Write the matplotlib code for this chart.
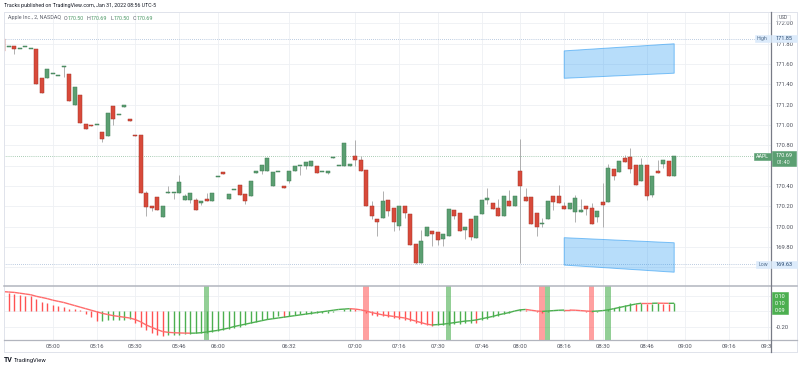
import numpy as np
import matplotlib
matplotlib.use("Agg")
import matplotlib.pyplot as plt
from matplotlib.patches import Rectangle, Polygon
from matplotlib.collections import LineCollection
from matplotlib.lines import Line2D
from matplotlib.transforms import blended_transform_factory, Bbox, TransformedBbox

plt.rcParams['font.family'] = ['Roboto', 'DejaVu Sans']

# ---------------- data ----------------
opens = [171.85, 171.77, 171.78, 171.75, 171.77, 171.75, 171.75, 171.46, 171.46, 171.50,
         171.48, 171.57, 171.50, 171.20, 171.30, 171.01, 171.00, 171.00, 170.93, 170.89,
         171.19, 171.10, 171.18, 171.06, 170.90, 170.90, 170.33, 170.20, 170.29, 170.09,
         170.33, 170.33, 170.33, 170.26, 170.26, 170.26, 170.23, 170.27, 170.25, 170.49,
         170.54, 170.27, 170.36, 170.41, 170.32, 170.30, 170.53, 170.55, 170.55, 170.40,
         170.54, 170.40, 170.45, 170.55, 170.60, 170.60, 170.60, 170.60, 170.54, 170.53,
         170.67, 170.60, 170.60, 170.60, 170.69, 170.66, 170.56, 170.20, 170.07, 170.08,
         170.26, 170.18, 170.01, 170.20, 170.12, 169.83, 169.64, 169.91, 169.96, 169.95,
         169.88, 169.91, 170.16, 170.13, 169.97, 170.07, 169.89, 170.12, 170.26, 170.23,
         170.18, 170.10, 170.25, 170.20, 170.55, 170.29, 170.29, 170.13, 170.02, 170.07,
         170.30, 170.30, 170.20, 170.17, 170.14, 170.14, 170.20, 170.18, 170.09, 170.24,
         170.24, 170.57, 170.54, 170.67, 170.68, 170.61, 170.45, 170.61, 170.31, 170.55,
         170.62, 170.65, 170.50]
closes = [171.73, 171.77, 171.75, 171.75, 171.77, 171.75, 171.40, 171.32, 171.55, 171.50,
          171.48, 171.58, 171.24, 171.37, 171.02, 170.96, 170.99, 171.00, 170.86, 171.12,
          171.06, 171.10, 171.20, 171.04, 170.89, 170.33, 170.19, 170.18, 170.16, 170.20,
          170.33, 170.33, 170.44, 170.30, 170.33, 170.16, 170.25, 170.25, 170.33, 170.49,
          170.52, 170.32, 170.36, 170.31, 170.25, 170.45, 170.55, 170.61, 170.67, 170.54,
          170.54, 170.38, 170.55, 170.60, 170.60, 170.64, 170.65, 170.53, 170.54, 170.55,
          170.68, 170.60, 170.82, 170.62, 170.66, 170.55, 170.20, 170.10, 170.04, 170.25,
          170.15, 170.04, 170.20, 170.13, 169.82, 169.64, 169.86, 170.00, 169.93, 169.87,
          169.93, 170.17, 170.10, 169.96, 170.00, 169.90, 170.10, 170.26, 170.28, 170.17,
          170.10, 170.30, 170.20, 170.30, 170.40, 170.25, 170.02, 170.00, 170.03, 170.25,
          170.24, 170.23, 170.17, 170.23, 170.28, 170.16, 170.17, 170.02, 170.15, 170.21,
          170.58, 170.50, 170.65, 170.64, 170.57, 170.41, 170.61, 170.30, 170.50, 170.53,
          170.66, 170.50, 170.69]
highs = [171.85, 171.77, 171.78, 171.75, 171.77, 171.75, 171.75, 171.46, 171.55, 171.50,
         171.48, 171.58, 171.50, 171.37, 171.30, 171.01, 171.00, 171.00, 170.93, 171.12,
         171.19, 171.10, 171.20, 171.06, 170.90, 170.90, 170.35, 170.20, 170.29, 170.20,
         170.40, 170.33, 170.51, 170.32, 170.33, 170.28, 170.25, 170.33, 170.33, 170.49,
         170.54, 170.32, 170.36, 170.41, 170.32, 170.45, 170.55, 170.61, 170.67, 170.54,
         170.54, 170.40, 170.55, 170.60, 170.60, 170.64, 170.65, 170.60, 170.54, 170.55,
         170.68, 170.60, 170.82, 170.62, 170.85, 170.69, 170.56, 170.25, 170.07, 170.35,
         170.26, 170.18, 170.20, 170.20, 170.12, 169.83, 169.97, 170.00, 169.96, 169.95,
         169.93, 170.17, 170.16, 170.13, 170.00, 170.07, 170.10, 170.26, 170.38, 170.23,
         170.27, 170.30, 170.36, 170.30, 170.86, 170.38, 170.29, 170.13, 170.08, 170.25,
         170.30, 170.41, 170.24, 170.23, 170.31, 170.27, 170.20, 170.23, 170.15, 170.43,
         170.62, 170.57, 170.65, 170.70, 170.77, 170.61, 170.67, 170.61, 170.50, 170.66,
         170.66, 170.65, 170.69]
lows = [171.73, 171.77, 171.70, 171.75, 171.77, 171.75, 171.40, 171.32, 171.46, 171.50,
        171.48, 171.47, 171.24, 171.20, 171.02, 170.96, 170.99, 171.00, 170.83, 170.89,
        171.00, 171.10, 171.18, 171.04, 170.89, 170.33, 170.10, 170.15, 170.16, 170.09,
        170.33, 170.27, 170.33, 170.26, 170.23, 170.16, 170.21, 170.25, 170.25, 170.49,
        170.52, 170.27, 170.36, 170.31, 170.22, 170.30, 170.53, 170.52, 170.55, 170.40,
        170.54, 170.38, 170.43, 170.55, 170.51, 170.57, 170.60, 170.53, 170.54, 170.52,
        170.67, 170.60, 170.60, 170.60, 170.60, 170.55, 170.20, 170.07, 169.91, 170.08,
        170.10, 169.96, 169.97, 170.08, 169.82, 169.63, 169.64, 169.91, 169.81, 169.82,
        169.81, 169.91, 170.07, 169.96, 169.88, 169.87, 169.89, 170.12, 170.22, 170.17,
        170.10, 170.10, 170.20, 170.20, 169.64, 170.25, 170.02, 169.91, 170.00, 170.07,
        170.16, 170.23, 170.17, 170.17, 170.04, 170.14, 170.11, 170.02, 170.04, 170.00,
        170.24, 170.46, 170.54, 170.64, 170.53, 170.41, 170.45, 170.26, 170.29, 170.53,
        170.58, 170.50, 170.50]

# oscillator histogram and its signal line (lower pane)
osc = [0.235, 0.23, 0.22, 0.21, 0.20, 0.19,
       0.15, 0.12, 0.10, 0.08, 0.06, 0.05,
       0.03, 0.02, 0.01,
       -0.04, -0.08, -0.13,
       -0.125, -0.12, -0.118, -0.115, -0.11, -0.105,
       -0.16, -0.20, -0.24, -0.28, -0.31, -0.32,
       -0.315, -0.31, -0.305, -0.30, -0.295, -0.29, -0.285,
       -0.28, -0.27, -0.26, -0.25, -0.235, -0.22, -0.20, -0.18, -0.16, -0.14,
       -0.12, -0.10, -0.085, -0.07,
       -0.075,
       -0.06, -0.05, -0.045, -0.04, -0.035, -0.03, -0.025, -0.02, -0.01, 0.0,
       0.03, 0.04,
       0.02, 0.0, -0.03, -0.05, -0.06, -0.07, -0.08, -0.09, -0.10, -0.11, -0.13, -0.15, -0.17, -0.18, -0.19,
       -0.185, -0.18, -0.175, -0.17, -0.165, -0.16, -0.155,
       -0.16,
       -0.12, -0.10, -0.08, -0.06, -0.04, -0.02, 0.0,
       0.02, 0.01, 0.0,
       -0.01, -0.02, -0.01, 0.0, 0.005, 0.01, 0.005, 0.0, -0.005, -0.01, -0.015, -0.01, 0.0,
       0.02, 0.04, 0.06, 0.08, 0.10, 0.09, 0.10, 0.09, 0.095, 0.10, 0.09, 0.085, 0.10]
signal = [0.25, 0.245, 0.24, 0.23, 0.22, 0.21,
          0.19, 0.175, 0.16, 0.14, 0.125, 0.11,
          0.09, 0.07, 0.05, 0.03, 0.01, -0.01,
          -0.03, -0.045, -0.06, -0.07, -0.08, -0.09,
          -0.11, -0.14, -0.18, -0.21, -0.24, -0.265,
          -0.275, -0.28, -0.283, -0.285, -0.286, -0.285, -0.28,
          -0.27, -0.26, -0.25, -0.235, -0.22, -0.20, -0.185, -0.17, -0.155, -0.14,
          -0.125, -0.11, -0.10, -0.09, -0.08,
          -0.07, -0.06, -0.05, -0.04, -0.03, -0.02,
          -0.01, 0.0, 0.01, 0.02, 0.025, 0.03,
          0.025, 0.015, 0.0, -0.02, -0.035, -0.05,
          -0.06, -0.07, -0.08, -0.09, -0.11, -0.13, -0.15, -0.17, -0.18,
          -0.175, -0.17, -0.16, -0.15, -0.14, -0.13, -0.125, -0.115,
          -0.10, -0.085, -0.07, -0.05, -0.035, -0.02, 0.0,
          0.015, 0.02, 0.01, 0.0, -0.005, 0.0,
          0.005, 0.01, 0.012, 0.012, 0.01, 0.005, 0.0, -0.005, 0.0, 0.005,
          0.015, 0.03, 0.045, 0.06, 0.075, 0.09, 0.10,
          0.10, 0.10, 0.101, 0.10, 0.099, 0.10]
buy_signals = [38, 82, 100, 111]
sell_signals = [67, 99, 108]

tick_bars = [10, 18, 25, 33, 40, 53, 65, 73, 80, 88, 95, 103, 110, 118, 125, 133, 140]
tick_labels = ['05:00', '05:16', '05:30', '05:46', '06:00', '06:32', '07:00', '07:16',
               '07:30', '07:46', '08:00', '08:16', '08:30', '08:46', '09:00', '09:16', '09:30']
price_levels = [169.60, 169.80, 170.00, 170.20, 170.40, 170.60, 170.80, 171.00,
                171.20, 171.40, 171.60, 171.80, 172.00]
hidden_price_labels = [169.60, 170.60]   # covered by the Low / AAPL tags
osc_levels = [0.20, 0.0, -0.20]
hidden_osc_labels = [0.20, 0.0]          # covered by the value box

# drawn channels (bar index, price)
chan_x = [103, 123]
upper_top = [171.73, 171.80]
upper_bot = [171.46, 171.51]
lower_top = [169.89, 169.84]
lower_bot = [169.62, 169.55]

high_price = 171.85
low_price = 169.63
last_price = 170.69
osc_last = ['0.10', '0.10', '0.09']
legend_prefix = 'Apple Inc., 2, NASDAQ'
legend_ohlc = [('O', '170.50'), ('H', '170.69'), ('L', '170.50'), ('C', '170.69')]

# ---------------- figure ----------------
W, H = 800, 368
fig = plt.figure(figsize=(W / 100, H / 100), dpi=100)
fig.patch.set_facecolor('white')

def fx(x):
    return x / W

def fy(y):
    return 1 - y / H

LEFT, RIGHT = 4.3, 771
TOP, SEP, BOT = 12, 285.5, 340
ax = fig.add_axes([fx(LEFT), fy(SEP), fx(RIGHT - LEFT), (SEP - TOP) / H])
ax2 = fig.add_axes([fx(LEFT), fy(BOT), fx(RIGHT - LEFT), (BOT - SEP) / H], sharex=ax)

UP, DN = '#5b9f72', '#d84a3b'
UPE, DNE = '#3f7d55', '#a8362a'
GRID = '#eef0f4'
TXT = '#50535e'

x = np.arange(1, len(opens) + 1)
o = np.array(opens); c = np.array(closes); h = np.array(highs); l = np.array(lows)

ax.set_xlim(1.2, 140.6)
ax.set_ylim(169.419, 172.113)
ppu = (SEP - TOP) / (172.113 - 169.419)

up = c >= o
ax.vlines(x, l, h, color='#a3a3a3', lw=0.6, zorder=2)
body_b = np.minimum(o, c)
body_h = np.maximum(np.abs(c - o), 1.0 / ppu)
ax.bar(x, body_h, bottom=body_b, width=0.72,
       color=np.where(up, UP, DN), edgecolor=np.where(up, UPE, DNE), lw=0.35, zorder=3)

# channels
for top, bot in ((upper_top, upper_bot), (lower_top, lower_bot)):
    pts = [(chan_x[0], top[0]), (chan_x[1], top[1]), (chan_x[1], bot[1]), (chan_x[0], bot[0])]
    ax.add_patch(Polygon(pts, closed=True, facecolor=(0.13, 0.59, 0.95, 0.32),
                         edgecolor=(0.13, 0.59, 0.95, 0.55), lw=0.7, zorder=4))

# dotted reference lines
ax.axhline(high_price, color='#7d9cc4', lw=0.5, ls=(0, (1, 2)), zorder=1)
ax.axhline(low_price, color='#7d9cc4', lw=0.5, ls=(0, (1, 2)), zorder=1)
ax.axhline(last_price, color='#5b9f72', lw=0.5, ls=(0, (1, 2)), zorder=1)

ax.set_yticks(price_levels)
ax.set_yticklabels(['' if p in hidden_price_labels else '%.2f' % p for p in price_levels])
ax.yaxis.tick_right()
ax.tick_params(axis='y', length=0, pad=3.6, labelsize=4.2, labelcolor=TXT)
ax.set_xticks(tick_bars)
ax.tick_params(axis='x', length=0, labelbottom=False)
ax.grid(True, color=GRID, lw=0.6, zorder=0)
ax.set_axisbelow(True)
for s in ax.spines.values():
    s.set_visible(False)

# lower pane
ax2.set_ylim(-0.374, 0.329)
for b in buy_signals:
    ax2.axvspan(b - 0.5, b + 0.5, color='#4caf50', alpha=0.6, lw=0, zorder=1)
for b in sell_signals:
    ax2.axvspan(b - 0.5, b + 0.5, color='#ff5252', alpha=0.55, lw=0, zorder=1)
osc_a = np.array(osc)
rising = np.concatenate([[False], np.diff(osc_a) > 0])
ax2.vlines(x, 0, osc_a, colors=np.where(rising, '#4caf50', '#ff5252'), lw=1.0, zorder=2)
sig = np.array(signal)
segs = [[(x[k], sig[k]), (x[k + 1], sig[k + 1])] for k in range(len(sig) - 1)]
seg_cols = ['#4caf50' if sig[k + 1] > sig[k] else '#ff6b6b' for k in range(len(sig) - 1)]
ax2.add_collection(LineCollection(segs, colors=seg_cols, lw=1.0, zorder=3))
ax2.set_yticks(osc_levels)
ax2.set_yticklabels(['' if v in hidden_osc_labels else '%.2f' % v for v in osc_levels])
ax2.yaxis.tick_right()
ax2.tick_params(axis='y', length=0, pad=3.6, labelsize=4.2, labelcolor=TXT)
ax2.set_xticks(tick_bars)
ax2.set_xticklabels(tick_labels)
ax2.tick_params(axis='x', length=0, pad=2.6, labelsize=4.2, labelcolor=TXT)
ax2.grid(True, color=GRID, lw=0.6, zorder=0)
ax2.set_axisbelow(True)
for s in ax2.spines.values():
    s.set_visible(False)
clip = TransformedBbox(Bbox([[0, 0], [fx(RIGHT), 1]]), fig.transFigure)
for lbl in ax2.get_xticklabels():
    lbl.set_clip_on(True)
    lbl.set_clip_box(clip)

# frame lines
def fline(x0, y0, x1, y1, col, lw):
    fig.add_artist(Line2D([fx(x0), fx(x1)], [fy(y0), fy(y1)], color=col, lw=lw,
                          transform=fig.transFigure, zorder=6))

fline(4, TOP, 797, TOP, '#e0e3eb', 0.7)
fline(LEFT, TOP, LEFT, 352, '#e0e3eb', 0.7)
fline(797, TOP, 797, 352, '#e0e3eb', 0.7)
fline(4, 352, 797, 352, '#e0e3eb', 0.7)
fline(4, SEP, 797, SEP, '#b2b5be', 1.1)
fline(4, BOT, 797, BOT, '#b2b5be', 0.9)
fline(RIGHT, TOP, RIGHT, 352, '#787b86', 0.9)

# tags on the price scale
bt = blended_transform_factory(fig.transFigure, ax.transData)

def tag(x0, x1, yc, hpx, face, edge, text, col, fs=4.0):
    fig.add_artist(Rectangle((fx(x0), yc - hpx / 2 / ppu), fx(x1 - x0), hpx / ppu,
                             transform=bt, facecolor=face, edgecolor=edge, lw=0.4, zorder=7))
    fig.text(fx((x0 + x1) / 2), yc, text, transform=bt, ha='center', va='center',
             fontsize=fs, color=col, zorder=8)

tag(754.5, 770.5, high_price, 7, '#dcebfb', '#dcebfb', 'High', '#55708f', 3.8)
tag(771.5, 797, high_price, 7, '#dcebfb', '#dcebfb', '%.2f' % high_price, '#2a4a70')
tag(756, 770.5, low_price, 7, '#dcebfb', '#dcebfb', 'Low', '#55708f', 3.8)
tag(771.5, 797, low_price, 7, '#dcebfb', '#dcebfb', '%.2f' % low_price, '#2a4a70')
tag(753.5, 770.5, last_price, 7, '#5b9f72', '#5b9f72', 'AAPL', 'white', 3.8)
fig.add_artist(Rectangle((fx(771.5), last_price - 9.5 / ppu), fx(24.5), 14.5 / ppu,
                         transform=bt, facecolor='#5b9f72', edgecolor='#5b9f72', lw=0.4, zorder=7))
fig.text(fx(783.5), last_price + 0.5 / ppu, '%.2f' % last_price, transform=bt,
         ha='center', va='center', fontsize=4.0, color='white', zorder=8)
fig.text(fx(783.5), last_price - 6.3 / ppu, '01:40', transform=bt,
         ha='center', va='center', fontsize=4.0, color='#e6f2ea', zorder=8)

# USD box
fig.add_artist(Rectangle((fx(777), fy(21)), fx(12.5), 6.5 / H, transform=fig.transFigure,
                         facecolor='white', edgecolor='#d1d4dc', lw=0.4, zorder=7))
fig.text(fx(783.2), fy(17.7), 'USD', ha='center', va='center', fontsize=3.4,
         color=TXT, zorder=8)

# lower pane value box
fig.add_artist(Rectangle((fx(771.7), fy(314.3)), fx(16.6), 22.3 / H, transform=fig.transFigure,
                         facecolor='#4caf50', edgecolor='#4caf50', lw=0.4, zorder=7))
for txt, yy in zip(osc_last, [296, 303.2, 310.5]):
    fig.text(fx(780), fy(yy), txt, ha='center', va='center', fontsize=4.0,
             color='white', zorder=8)

# header texts
fig.text(fx(4), fy(6), 'Tracks published on TradingView.com, Jan 31, 2022 08:56 UTC-5',
         ha='left', va='center', fontsize=3.8, color='#131722')

renderer = fig.canvas.get_renderer()
inv = fig.transFigure.inverted()

def run_text(xpx, ypx, s, col, fs):
    t = fig.text(fx(xpx), fy(ypx), s, ha='left', va='center', fontsize=fs, color=col)
    bb = t.get_window_extent(renderer=renderer)
    return bb.x1

xr = run_text(7.7, 18, legend_prefix, '#5d606b', 3.9)
for letter, val in legend_ohlc:
    xr = run_text(xr + 3.0, 18, letter, '#5d606b', 3.9)
    xr = run_text(xr + 0.3, 18, val, '#4f9a68', 3.9)

# logo
fig.text(fx(4), fy(360.5), 'TV', ha='left', va='center', fontsize=5.0,
         fontweight='bold', color='#131722')
fig.text(fx(13.5), fy(360.5), 'TradingView', ha='left', va='center', fontsize=4.2,
         color='#131722')

fig.savefig('out.png', dpi=100, facecolor='white')
